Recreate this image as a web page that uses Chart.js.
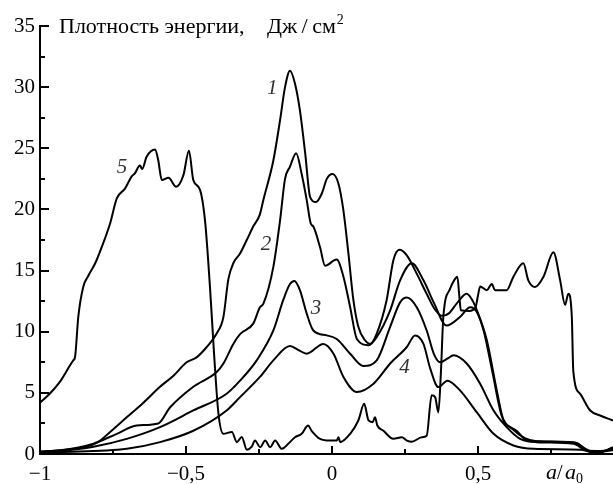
<!DOCTYPE html>
<html><head><meta charset="utf-8">
<script src="https://cdn.jsdelivr.net/npm/chart.js@4.4.1/dist/chart.umd.min.js"></script>
<style>html,body{margin:0;padding:0;background:#fff}#c{display:block}</style>
</head><body>
<canvas id="c" width="613" height="484"></canvas>
<script>
// ---- data (x = a/a0, y = energy density, J/cm^2) ----
const curve1X=[-1.0,-0.93,-0.85,-0.806,-0.76,-0.703,-0.646,-0.589,-0.543,-0.498,-0.464,-0.429,-0.395,-0.372,-0.355,-0.338,-0.315,-0.292,-0.270,-0.247,-0.235,-0.201,-0.178,-0.161,-0.144,-0.127,-0.110,-0.092,-0.075,-0.055,-0.035,-0.018,0.002,0.022,0.039,0.056,0.073,0.090,0.113,0.130,0.153,0.187,0.210,0.231,0.256,0.290,0.324,0.350,0.376,0.400,0.430,0.461,0.480,0.496,0.530,0.564,0.587,0.610,0.632,0.667,0.750,0.838,0.860,0.884,0.918,0.962];
const curve1Y=[0.2,0.3,0.55,0.9,1.8,3.0,4.2,5.5,6.4,7.5,7.9,8.75,9.85,11.2,14.3,15.6,16.4,17.5,18.6,19.6,20.8,24.0,27.3,30.0,31.35,30.3,28.1,24.6,21.0,20.6,21.3,22.5,22.9,22.1,19.9,16.4,12.6,10.4,9.3,9.0,9.85,12.6,15.85,16.7,16.25,14.75,13.1,11.9,11.3,11.5,12.4,13.1,12.6,11.75,9.3,5.2,2.74,2.2,1.9,1.1,1.0,0.9,0.5,0.15,0.15,0.56];

const curve2X=[-1.0,-0.93,-0.817,-0.737,-0.669,-0.595,-0.555,-0.475,-0.395,-0.372,-0.338,-0.315,-0.270,-0.247,-0.235,-0.201,-0.178,-0.161,-0.144,-0.123,-0.104,-0.087,-0.073,-0.064,-0.041,-0.024,0.016,0.039,0.062,0.085,0.125,0.153,0.199,0.233,0.273,0.313,0.350,0.392,0.438,0.473,0.496,0.520,0.550,0.580,0.620,0.660,0.700,0.830,0.870,0.900,0.962];
const curve2Y=[0.2,0.3,0.85,1.65,2.33,2.5,3.8,5.5,6.7,7.4,9.0,9.8,10.66,12.0,12.3,15.3,19.1,22.5,23.5,24.6,22.9,20.8,18.85,18.6,16.9,15.4,15.9,14.5,12.0,9.4,8.9,9.57,11.75,14.2,15.6,14.2,12.3,10.5,11.2,12.0,11.6,10.0,6.6,3.2,2.0,1.3,1.05,0.95,0.4,0.1,0.45];

const curve3X=[-1.0,-0.93,-0.817,-0.703,-0.589,-0.475,-0.361,-0.315,-0.258,-0.201,-0.167,-0.144,-0.129,-0.110,-0.087,-0.064,-0.018,0.016,0.062,0.107,0.153,0.199,0.233,0.256,0.290,0.324,0.350,0.370,0.395,0.416,0.461,0.507,0.553,0.598,0.644,0.701,0.827,0.872,0.920,0.962];
const curve3Y=[0.15,0.25,0.6,1.24,2.2,3.56,4.93,6.0,7.66,10.1,12.6,13.9,14.15,13.4,11.5,10.1,9.7,9.4,8.2,7.2,7.66,10.4,12.4,12.8,12.0,10.1,8.1,7.5,7.8,8.07,7.4,5.75,3.56,2.2,1.24,0.97,0.83,0.29,0.25,0.42];

const curve4X=[-1.0,-0.932,-0.703,-0.589,-0.475,-0.361,-0.315,-0.247,-0.201,-0.144,-0.115,-0.087,-0.030,0.005,0.039,0.085,0.142,0.199,0.256,0.284,0.313,0.336,0.364,0.395,0.438,0.496,0.553,0.621,0.690,0.850,0.900,0.962];
const curve4Y=[0.1,0.15,0.42,0.97,1.9,3.56,4.65,6.3,7.66,8.83,8.5,8.2,9.0,8.2,6.3,5.07,5.75,7.4,8.75,9.7,9.0,7.0,5.47,6.0,5.2,3.4,1.65,0.7,0.42,0.35,0.15,0.3];

const curve5X=[-1.0,-0.966,-0.932,-0.886,-0.880,-0.869,-0.852,-0.834,-0.811,-0.789,-0.760,-0.737,-0.709,-0.686,-0.675,-0.658,-0.650,-0.635,-0.606,-0.595,-0.583,-0.560,-0.534,-0.509,-0.490,-0.475,-0.452,-0.435,-0.418,-0.404,-0.389,-0.372,-0.343,-0.326,-0.309,-0.292,-0.275,-0.264,-0.246,-0.229,-0.212,-0.195,-0.172,-0.150,-0.127,-0.104,-0.082,-0.070,-0.041,-0.007,0.016,0.022,0.028,0.062,0.090,0.110,0.125,0.139,0.147,0.155,0.176,0.210,0.239,0.256,0.273,0.307,0.324,0.341,0.353,0.364,0.373,0.381,0.404,0.418,0.429,0.436,0.441,0.470,0.490,0.500,0.507,0.530,0.547,0.558,0.598,0.621,0.655,0.672,0.695,0.724,0.758,0.781,0.798,0.809,0.821,0.826,0.849,0.884,0.918,0.962];
const curve5Y=[4.2,4.95,5.9,7.66,7.93,11.2,13.66,14.6,15.6,16.9,18.85,20.9,21.7,22.7,22.95,23.6,23.3,24.3,24.9,24.0,22.4,22.6,21.85,22.8,24.8,22.4,21.6,19.1,13.66,8.2,3.3,1.65,1.8,0.97,1.4,0.35,0.6,1.1,0.56,1.1,0.56,1.1,0.42,0.83,1.37,1.65,2.33,1.9,1.24,1.1,1.1,1.37,0.97,1.65,2.74,4.1,2.74,2.6,3.0,2.33,1.9,1.24,1.37,1.1,1.0,1.37,1.5,4.8,4.65,3.4,6.8,11.2,13.5,14.2,14.5,12.85,11.75,11.7,11.9,13.0,13.7,13.4,13.9,13.4,13.4,14.5,15.6,14.2,13.66,14.5,16.5,14.2,12.2,13.1,11.2,6.8,4.93,3.56,3.15,2.74];

const xTickValues=[-1,-0.75,-0.5,-0.25,0,0.25,0.5,0.75];
const yTickValues=[0,2.5,5,7.5,10,12.5,15,17.5,20,22.5,25,27.5,30,32.5,35];
const curveNames=['1','2','3','4','5'];
const curveLabelX=[-0.205,-0.226,-0.055,0.248,-0.719];
const curveLabelY=[29.9,17.1,11.9,7.1,23.4];
const yTitleMain='Плотность энергии,';
const yTitleUnit='Дж\u2009/\u2009см';
const yTitleSup='2';

// ---- chart ----
const SERIF='"Liberation Serif", "DejaVu Serif", serif';
const series=[[curve1X,curve1Y],[curve2X,curve2Y],[curve3X,curve3Y],[curve4X,curve4Y],[curve5X,curve5Y]];
const datasets=series.map(([xs,ys],i)=>({
  label:curveNames[i],
  data:xs.map((x,j)=>({x:x,y:ys[j]})),
  borderColor:'#000',borderWidth:2,pointRadius:0,fill:false,
  cubicInterpolationMode:'monotone'
}));
const isMult=(v,s)=>Math.abs(v/s-Math.round(v/s))<1e-9;
const fmtX=v=>{const s=String(Math.abs(v)).replace('.',',');return v<0?'\u2212'+s:s;};

const decor={
  id:'decor',
  afterDraw(chart){
    const ctx=chart.ctx, xs=chart.scales.x, ys=chart.scales.y, ca=chart.chartArea;
    ctx.save();
    ctx.strokeStyle='#000';ctx.lineWidth=2;ctx.lineCap='butt';
    xTickValues.forEach(v=>{const px=Math.round(xs.getPixelForValue(v));const len=isMult(v,0.5)?8:5;
      ctx.beginPath();ctx.moveTo(px,ca.bottom);ctx.lineTo(px,ca.bottom-len);ctx.stroke();});
    yTickValues.forEach(v=>{const py=Math.round(ys.getPixelForValue(v));const len=isMult(v,5)?9:5;
      ctx.beginPath();ctx.moveTo(ca.left,py);ctx.lineTo(ca.left+len,py);ctx.stroke();});
    // y title
    ctx.fillStyle='#000';ctx.textBaseline='alphabetic';ctx.textAlign='left';
    ctx.font='22px '+SERIF;
    ctx.fillText(yTitleMain,59,33);
    ctx.fillText(yTitleUnit,267,33);
    const uw=ctx.measureText(yTitleUnit).width;
    ctx.font='14px '+SERIF;
    ctx.fillText(yTitleSup,267+uw+1,24);
    // x title
    ctx.font='italic 22px '+SERIF;
    ctx.fillText('a',546,479);
    ctx.font='20px '+SERIF;
    ctx.fillText('/',557,479);
    ctx.font='italic 22px '+SERIF;
    ctx.fillText('a',565,479);
    ctx.font='14px '+SERIF;
    ctx.fillText('0',576,483);
    // curve labels
    ctx.font='italic 21px '+SERIF;ctx.fillStyle='#333';ctx.textAlign='center';ctx.textBaseline='middle';
    curveNames.forEach((n,i)=>{ctx.fillText(n,xs.getPixelForValue(curveLabelX[i]),ys.getPixelForValue(curveLabelY[i]));});
    ctx.restore();
  }
};

new Chart(document.getElementById('c'),{
  type:'line',
  data:{datasets},
  options:{
    responsive:false,animation:false,devicePixelRatio:1,
    layout:{padding:{top:26,right:0,bottom:0,left:0}},
    plugins:{legend:{display:false},tooltip:{enabled:false},title:{display:false}},
    scales:{
      x:{type:'linear',min:-1,max:0.962,
        afterBuildTicks:s=>{s.ticks=xTickValues.map(v=>({value:v}));},
        afterFit:s=>{s.height=30;},
        grid:{display:false,drawTicks:false},
        border:{display:true,color:'#000',width:2},
        ticks:{padding:8,color:'#000',maxRotation:0,autoSkip:false,font:{family:SERIF,size:21},
          callback:v=>isMult(v,0.5)?fmtX(v):''}
      },
      y:{type:'linear',min:0,max:35,
        afterBuildTicks:s=>{s.ticks=yTickValues.map(v=>({value:v}));},
        afterFit:s=>{s.width=40;},
        grid:{display:false,drawTicks:false},
        border:{display:true,color:'#000',width:2},
        ticks:{padding:5,color:'#000',autoSkip:false,font:{family:SERIF,size:21},
          callback:v=>isMult(v,5)?String(v):''}
      }
    }
  },
  plugins:[decor]
});
</script>
</body></html>
